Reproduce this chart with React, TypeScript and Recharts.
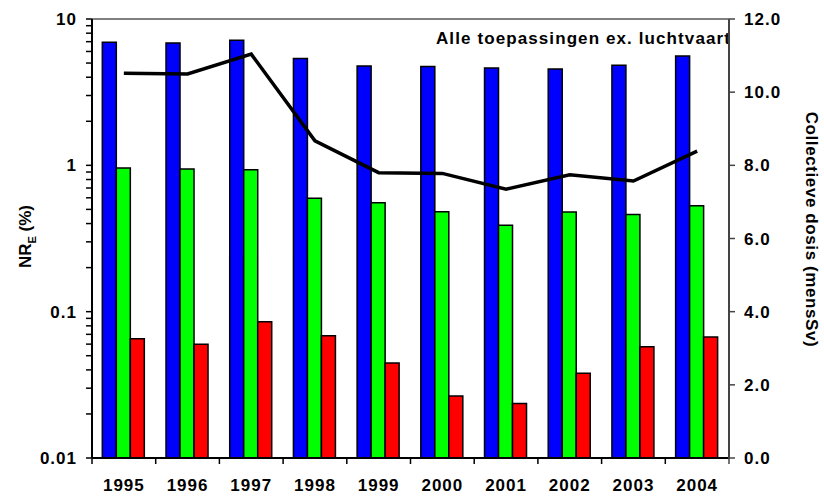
import React from 'react';
import {
    ComposedChart, Bar, Line, XAxis, YAxis, ReferenceLine
} from 'recharts';

const YEARS = ['1995', '1996', '1997', '1998', '1999', '2000', '2001', '2002', '2003', '2004'];
const BLUE = [6.93, 6.85, 7.15, 5.38, 4.77, 4.74, 4.62, 4.55, 4.83, 5.58];
const GREEN = [0.96, 0.944, 0.933, 0.595, 0.555, 0.482, 0.389, 0.48, 0.462, 0.53];
const RED = [0.0653, 0.06, 0.0853, 0.0684, 0.0446, 0.0265, 0.0236, 0.038, 0.0575, 0.067];
const DOSE = [10.52, 10.5, 11.04, 8.67, 7.8, 7.78, 7.35, 7.74, 7.57, 8.39];

const LEFT_TICKS = [
    0.01, 0.02, 0.03, 0.04, 0.05, 0.06, 0.07, 0.08, 0.09,
    0.1, 0.2, 0.3, 0.4, 0.5, 0.6, 0.7, 0.8, 0.9,
    1, 2, 3, 4, 5, 6, 7, 8, 9, 10,
];
const MAJOR = ['0.01', '0.1', '1', '10'];
const RIGHT_TICKS = [0, 2, 4, 6, 8, 10, 12];

const DATA = YEARS.map((year, i) => ({
    year, blue: BLUE[i], green: GREEN[i], red: RED[i], dose: DOSE[i],
}));

const W = 824;
const H = 500;
const LEFT_W = 92;
const RIGHT_W = 95;
const BAND = (W - LEFT_W - RIGHT_W) / YEARS.length;
const FONT = '"Liberation Sans", Arial, sans-serif';
const tickStyle = { fill: '#000', fontSize: 17, fontWeight: 700, fontFamily: FONT, letterSpacing: 1 };

function YearTick(props: any) {
    const { x, y, payload, index } = props;
    const left = x - BAND / 2;
    return (
        <g>
            <line x1={left} y1={y} x2={left} y2={y + 6} stroke="#000" strokeWidth={1.5} />
            {index === YEARS.length - 1 && (
                <line x1={left + BAND} y1={y} x2={left + BAND} y2={y + 6} stroke="#444" strokeWidth={1.5} />
            )}
            <text x={x} y={y + 33} textAnchor="middle" {...tickStyle}>{payload.value}</text>
        </g>
    );
}

// log axis: every tick gets a short line, only the decades get a label
function LogTick(props: any) {
    const { x, y, payload } = props;
    const label = String(payload.value);
    return (
        <g>
            <line x1={x - 6} y1={y} x2={x} y2={y} stroke="#000" strokeWidth={1.5} />
            {MAJOR.includes(label) && (
                <text x={x - 15} y={y} dy="0.36em" textAnchor="end" {...tickStyle}>{label}</text>
            )}
        </g>
    );
}

function LeftLabel(props: any) {
    const { viewBox } = props;
    const cx = 25;
    const cy = viewBox.y + viewBox.height / 2 - 2;
    return (
        <text transform={`translate(${cx},${cy}) rotate(-90)`} textAnchor="middle" dy="0.35em"
            fill="#000" fontSize={17} fontWeight={700} fontFamily={FONT}>
            NR<tspan fontSize={11} dy={5}>E</tspan><tspan dy={-5}> (%)</tspan>
        </text>
    );
}

function RightLabel(props: any) {
    const { viewBox } = props;
    const cx = 812;
    const cy = viewBox.y + viewBox.height / 2 - 9;
    return (
        <text transform={`translate(${cx},${cy}) rotate(90)`} textAnchor="middle" dy="0.35em"
            fill="#000" fontSize={17} fontWeight={700} fontFamily={FONT} letterSpacing={0.6}>
            Collectieve dosis (mensSv)
        </text>
    );
}

export default function App() {
    return (
        <div style={{ position: 'absolute', left: 0, top: 0, width: W, height: H, background: '#fff' }}>
            <ComposedChart width={W} height={H} data={DATA}
                margin={{ top: 19, right: 0, bottom: 0, left: 0 }}
                barCategoryGap="16.2%" barGap={0}>
                <XAxis dataKey="year" height={42} tickLine={false} tickSize={0} tickMargin={0}
                    axisLine={{ stroke: '#000', strokeWidth: 2 }} tick={<YearTick />} interval={0} />
                <YAxis yAxisId="left" type="number" scale="log" domain={[0.01, 10]} ticks={LEFT_TICKS}
                    allowDataOverflow width={LEFT_W} interval={0}
                    tickSize={0} tickMargin={0} tickLine={false}
                    axisLine={{ stroke: '#000', strokeWidth: 2 }}
                    tick={<LogTick />}
                    label={<LeftLabel />} />
                <YAxis yAxisId="right" orientation="right" domain={[0, 12]} ticks={RIGHT_TICKS}
                    width={RIGHT_W} interval={0} tickSize={6} tickMargin={9}
                    tickFormatter={(v: number) => v.toFixed(1)}
                    axisLine={{ stroke: '#444', strokeWidth: 2 }}
                    tickLine={{ stroke: '#444', strokeWidth: 1.5 }}
                    tick={tickStyle}
                    label={<RightLabel />} />
                <ReferenceLine yAxisId="left" y={10} stroke="#808080" strokeWidth={2} />
                <Bar yAxisId="left" dataKey="blue" fill="#0000FF" stroke="#000" strokeWidth={1.5} isAnimationActive={false} />
                <Bar yAxisId="left" dataKey="green" fill="#00FF00" stroke="#000" strokeWidth={1.5} isAnimationActive={false} />
                <Bar yAxisId="left" dataKey="red" fill="#FF0000" stroke="#000" strokeWidth={1.5} isAnimationActive={false} />
                <Line yAxisId="right" dataKey="dose" stroke="#000" strokeWidth={3.5} dot={false}
                    type="linear" isAnimationActive={false} />
                <text x={731} y={44} textAnchor="end" fill="#000" fontSize={17} fontWeight={700}
                    fontFamily={FONT} letterSpacing={1.1}>
                    Alle toepassingen ex. luchtvaart
                </text>
            </ComposedChart>
        </div>
    );
}
